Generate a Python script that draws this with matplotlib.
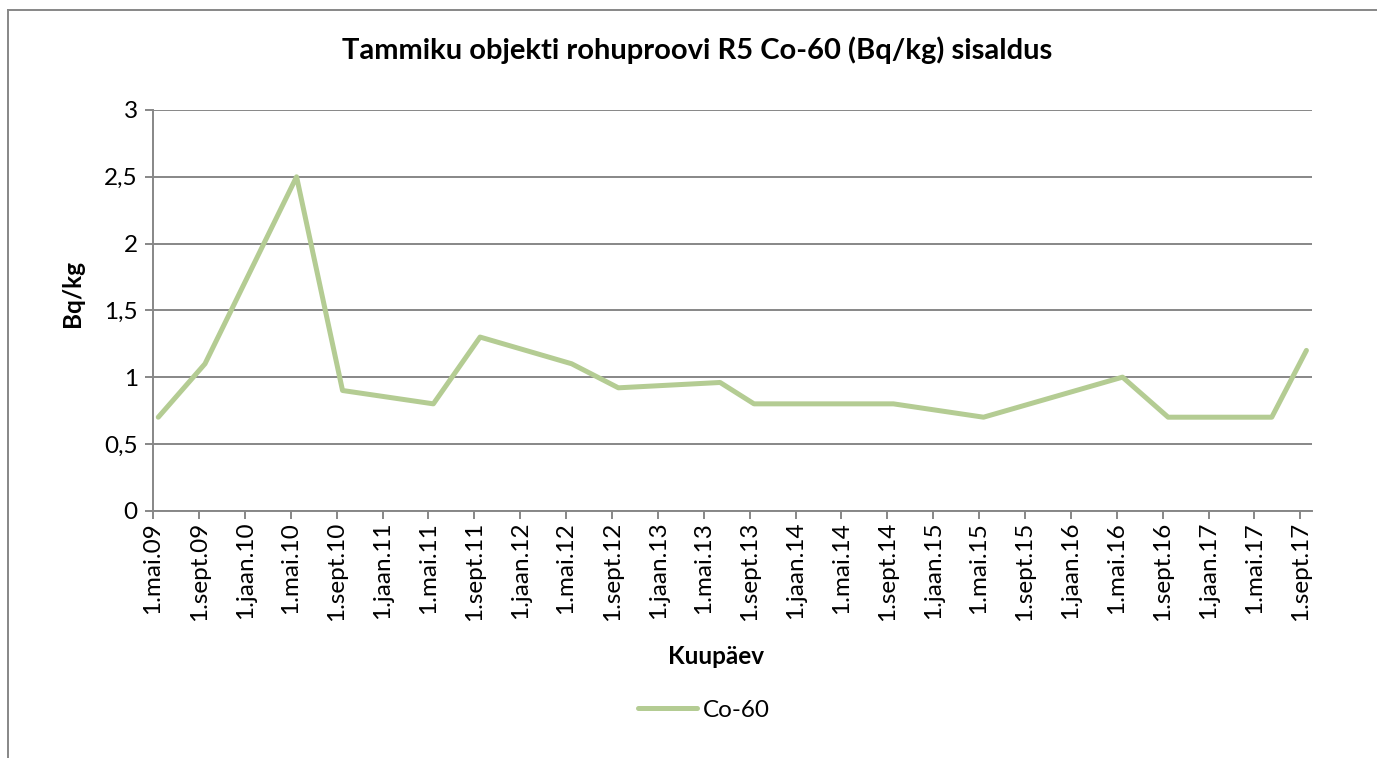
import matplotlib
matplotlib.use("Agg")
import matplotlib.pyplot as plt
from matplotlib.lines import Line2D
import pandas as pd

plt.rcParams['font.family'] = ['Lato', 'DejaVu Sans']

# measurement dates and Co-60 content (Bq/kg)
sample_dates = ['2009-05-15', '2009-09-16', '2010-05-17', '2010-09-16',
                '2011-05-15', '2011-09-16', '2012-05-16', '2012-09-17',
                '2013-06-14', '2013-09-12', '2014-09-17', '2015-05-14',
                '2016-05-17', '2016-09-15', '2017-06-17', '2017-09-17']
co60 = [0.7, 1.1, 2.5, 0.9, 0.8, 1.3, 1.1, 0.92,
        0.96, 0.8, 0.8, 0.7, 1.0, 0.7, 0.7, 1.2]

# x ticks every 4 months, Estonian month names
tick_dates = pd.date_range('2009-05-01', '2017-09-01', freq='4MS')
month_names = {1: 'jaan', 5: 'mai', 9: 'sept'}
tick_labels = ['1.%s.%02d' % (month_names[d.month], d.year % 100) for d in tick_dates]

y_ticks = [0, 0.5, 1, 1.5, 2, 2.5, 3]
y_labels = ['0', '0,5', '1', '1,5', '2', '2,5', '3']

W, H = 1377, 758
fig = plt.figure(figsize=(W / 100, H / 100), dpi=100)
ax = fig.add_axes([153 / W, 1 - 510.7 / H, (1311.7 - 153) / W, (510.7 - 110) / H])

grid_col = '#878787'
line_col = '#B4CC93'
fs = 17.5

x = pd.to_datetime(sample_dates)
ax.plot(x, co60, color=line_col, lw=3.6, solid_joinstyle='round',
        solid_capstyle='round', label='Co-60', zorder=3)

ax.set_xlim(pd.Timestamp('2009-05-01'), pd.Timestamp('2017-10-01'))
ax.set_ylim(0, 3)
ax.set_xticks(tick_dates)
ax.set_xticklabels(tick_labels, rotation=90, fontsize=fs)
ax.set_yticks(y_ticks)
ax.set_yticklabels(y_labels, fontsize=fs)

ax.yaxis.grid(True, color=grid_col, lw=1.4)
ax.set_axisbelow(True)
for s in ['top', 'right']:
    ax.spines[s].set_visible(False)
for s in ['left', 'bottom']:
    ax.spines[s].set_color(grid_col)
    ax.spines[s].set_linewidth(1.4)
ax.tick_params(axis='both', color=grid_col, width=1.4, length=6, direction='out')
ax.tick_params(axis='x', pad=2)
ax.tick_params(axis='y', pad=5)

fig.text(697 / W, 1 - 50 / H, 'Tammiku objekti rohuproovi R5 Co-60 (Bq/kg) sisaldus',
         ha='center', va='center', fontsize=21, fontweight='bold')
fig.text(72 / W, 1 - 293 / H, 'Bq/kg', rotation=90, ha='center', va='center',
         fontsize=fs, fontweight='bold')
fig.text(716 / W, 1 - 657 / H, 'Kuupäev', ha='center', va='center',
         fontsize=fs, fontweight='bold')

ax.legend(loc='center', bbox_to_anchor=(704 / W, 1 - 710 / H),
          bbox_transform=fig.transFigure, frameon=False, fontsize=fs,
          handlelength=2.4, handletextpad=0.25)

# chart border
fig.add_artist(Line2D([8 / W, 8 / W], [0, 1 - 10 / H], color=grid_col, lw=1.4,
                      transform=fig.transFigure))
fig.add_artist(Line2D([8 / W, 1], [1 - 10 / H, 1 - 10 / H], color=grid_col, lw=1.4,
                      transform=fig.transFigure))

fig.savefig('out.png', dpi=100)
